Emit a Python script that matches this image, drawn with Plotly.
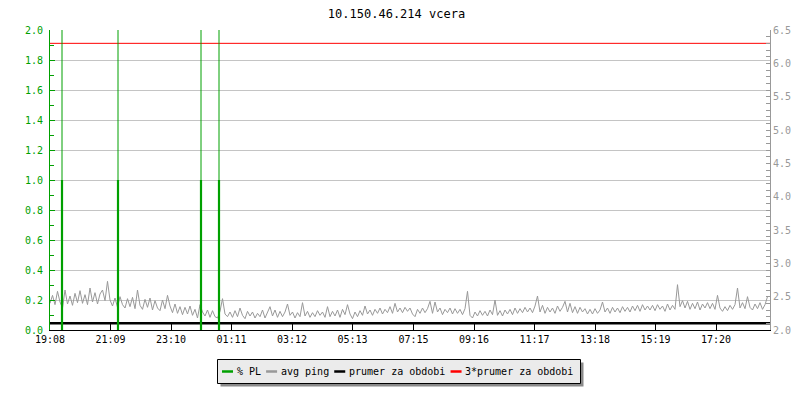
import datetime as dt
import plotly.graph_objects as go

# ---------------- data ----------------
title_text = "10.150.46.214 vcera"
start_time = "2024-05-01 19:08"
step_minutes = 5

tick_labels = ["19:08", "21:09", "23:10", "01:11", "03:12", "05:13",
               "07:15", "09:16", "11:17", "13:18", "15:19", "17:20"]

# avg ping [ms], one value per 5 minutes (288 values = 24 h)
avg_ping = [
    2.40, 2.52, 2.38, 2.58, 2.42, 2.33, 2.60, 2.39, 2.51, 2.37, 2.55, 2.41,
    2.59, 2.40, 2.53, 2.38, 2.63, 2.42, 2.56, 2.39, 2.54, 2.60, 2.44, 2.73,
    2.45, 2.36, 2.48, 2.34, 2.50, 2.38, 2.33, 2.47, 2.35, 2.49, 2.32, 2.60,
    2.37, 2.31, 2.46, 2.34, 2.48, 2.30, 2.44, 2.33, 2.29, 2.45, 2.32, 2.52,
    2.36, 2.26, 2.39, 2.25, 2.35, 2.23, 2.34, 2.24, 2.36, 2.22, 2.31, 2.18,
    2.38, 2.27, 2.21, 2.30, 2.19, 2.29, 2.20, 2.18, 2.28, 2.47, 2.24, 2.20,
    2.27, 2.19, 2.29, 2.20, 2.33, 2.22, 2.17, 2.28, 2.21, 2.27, 2.18, 2.25,
    2.20, 2.30, 2.18, 2.26, 2.35, 2.21, 2.30, 2.19, 2.28, 2.20, 2.27, 2.39,
    2.22, 2.27, 2.18, 2.26, 2.20, 2.41, 2.21, 2.28, 2.19, 2.26, 2.20, 2.29,
    2.22, 2.27, 2.19, 2.35, 2.20, 2.28, 2.21, 2.30, 2.19, 2.31, 2.23, 2.38,
    2.24, 2.17, 2.27, 2.20, 2.29, 2.22, 2.36, 2.24, 2.30, 2.22, 2.31, 2.25,
    2.33, 2.24, 2.31, 2.26, 2.35, 2.25, 2.40, 2.27, 2.33, 2.26, 2.34, 2.28,
    2.33, 2.24, 2.20, 2.31, 2.25, 2.33, 2.26, 2.32, 2.43, 2.25, 2.42, 2.27,
    2.33, 2.23, 2.31, 2.26, 2.33, 2.24, 2.32, 2.25, 2.31, 2.23, 2.32, 2.58,
    2.22, 2.18, 2.27, 2.21, 2.29, 2.22, 2.28, 2.21, 2.30, 2.23, 2.45, 2.22,
    2.29, 2.21, 2.30, 2.24, 2.31, 2.23, 2.33, 2.25, 2.32, 2.26, 2.34, 2.27,
    2.33, 2.26, 2.36, 2.51, 2.27, 2.37, 2.25, 2.34, 2.27, 2.33, 2.25, 2.36,
    2.28, 2.34, 2.43, 2.27, 2.40, 2.26, 2.35, 2.25, 2.34, 2.27, 2.32, 2.24,
    2.31, 2.24, 2.32, 2.25, 2.30, 2.42, 2.27, 2.33, 2.25, 2.34, 2.27, 2.33,
    2.26, 2.35, 2.28, 2.34, 2.27, 2.36, 2.29, 2.37, 2.28, 2.38, 2.30, 2.36,
    2.30, 2.37, 2.29, 2.38, 2.31, 2.36, 2.28, 2.39, 2.30, 2.37, 2.31, 2.68,
    2.35, 2.44, 2.33, 2.43, 2.31, 2.40, 2.32, 2.42, 2.30, 2.39, 2.33, 2.41,
    2.32, 2.40, 2.31, 2.52, 2.33, 2.28, 2.35, 2.29, 2.37, 2.31, 2.38, 2.63,
    2.33, 2.41, 2.32, 2.50, 2.34, 2.30, 2.39, 2.32, 2.41, 2.31, 2.38, 2.50,
]

# packet loss events [%]
pl_times = ["2024-05-01 19:32", "2024-05-01 21:24",
            "2024-05-02 00:10", "2024-05-02 00:46"]
pl_values = [1.0, 1.0, 1.0, 1.0]

prumer_ms = 2.1            # average for the period
prumer3_ms = 3 * prumer_ms

legend_names = ["% PL", "avg ping", "prumer za obdobi", "3*prumer za obdobi"]

# ---------------- styles ----------------
GREEN = "#00a000"
GRAY = "#999999"
GRID = "#c4c4c4"
FONT = "DejaVu Sans Mono"
legend_colors = [GREEN, GRAY, "#000000", "#ff0000"]

# page body has an 8px margin; design in page pixels and convert
OFF = 8
W, H = 800 - OFF, 400 - OFF
PX0, PX1, PY0, PY1 = 50, 770, 30, 330          # plot area in page pixels
ML, MT = PX0 - OFF, PY0 - OFF
MR, MB = W - (PX1 - OFF), H - (PY1 - OFF)
PW, PH = PX1 - PX0, PY1 - PY0

t0 = dt.datetime.strptime(start_time, "%Y-%m-%d %H:%M")
t_end = t0 + dt.timedelta(hours=24)
ping_x = [t0 + dt.timedelta(minutes=step_minutes * i) for i in range(len(avg_ping))]

# tick positions from the tick labels (day rollover)
tickvals = []
day = t0.date()
prev_h = -1
for lab in tick_labels:
    h, m = map(int, lab.split(":"))
    if h < prev_h:
        day = day + dt.timedelta(days=1)
    prev_h = h
    tickvals.append(dt.datetime.combine(day, dt.time(h, m)))

PL_MAX = 2.0

fig = go.Figure()

fig.add_trace(go.Scatter(x=ping_x, y=avg_ping, mode="lines",
                         line=dict(color=GRAY, width=1), yaxis="y",
                         showlegend=False, hoverinfo="skip"))
fig.add_trace(go.Scatter(x=[t0, t_end], y=[prumer_ms, prumer_ms], mode="lines",
                         line=dict(color="#000000", width=2.5), yaxis="y",
                         showlegend=False, hoverinfo="skip"))
fig.add_trace(go.Scatter(x=[t0, t_end], y=[prumer3_ms, prumer3_ms], mode="lines",
                         line=dict(color="#ff0000", width=1), yaxis="y",
                         showlegend=False, hoverinfo="skip"))

thin_x, thin_y, thick_x, thick_y = [], [], [], []
for t, v in zip(pl_times, pl_values):
    thin_x += [t, t, None]
    thin_y += [0, PL_MAX, None]
    thick_x += [t, t, None]
    thick_y += [0, v, None]
fig.add_trace(go.Scatter(x=thin_x, y=thin_y, mode="lines",
                         line=dict(color=GREEN, width=1), yaxis="y2",
                         showlegend=False, hoverinfo="skip"))
fig.add_trace(go.Scatter(x=thick_x, y=thick_y, mode="lines",
                         line=dict(color=GREEN, width=2.2), yaxis="y2",
                         showlegend=False, hoverinfo="skip"))


def px_x(p):
    return (p - PX0) / PW


def px_y(p):
    return (PY1 - p) / PH


shapes = []
annotations = []
# legend box with shadow (page pixels)
bx0, by0, bx1, by1 = 217.5, 359.5, 580.5, 383.5
shapes.append(dict(type="rect", xref="paper", yref="paper",
                   x0=px_x(bx0 + 3), x1=px_x(bx1 + 3), y0=px_y(by1 + 3), y1=px_y(by0 + 3),
                   fillcolor="#8a8a8a", line=dict(width=0), layer="above"))
shapes.append(dict(type="rect", xref="paper", yref="paper",
                   x0=px_x(bx0), x1=px_x(bx1), y0=px_y(by1), y1=px_y(by0),
                   fillcolor="#ebebeb", line=dict(color="#000000", width=1), layer="above"))
cx = 222.0
ly = 371.5
CH = 6.02
for name, col in zip(legend_names, legend_colors):
    shapes.append(dict(type="line", xref="paper", yref="paper",
                       x0=px_x(cx), x1=px_x(cx + 11), y0=px_y(ly), y1=px_y(ly),
                       line=dict(color=col, width=2.5), layer="above"))
    annotations.append(dict(text=name, xref="paper", yref="paper",
                            x=px_x(cx + 14.5), y=px_y(ly), xanchor="left", yanchor="middle",
                            showarrow=False, borderpad=0, borderwidth=0,
                            font=dict(family=FONT, size=10, color="#000000")))
    cx += 14.5 + len(name) * CH + 5.5

fig.update_layout(
    width=W, height=H,
    margin=dict(l=ML, r=MR, t=MT, b=MB, autoexpand=False),
    paper_bgcolor="#ffffff", plot_bgcolor="#ffffff",
    showlegend=False,
    title=dict(text=title_text, x=(396.5 - OFF) / W, xref="container", xanchor="center",
               y=1 - (13.5 - OFF) / H, yref="container", yanchor="middle",
               font=dict(family=FONT, size=12, color="#000000")),
    xaxis=dict(type="date", range=[t0, t_end], tickvals=tickvals, ticktext=tick_labels,
               ticks="inside", ticklen=6, tickcolor="#000000", tickwidth=1,
               showline=True, linecolor="#000000", linewidth=1,
               showgrid=False, zeroline=False,
               tickfont=dict(family=FONT, size=10, color="#000000")),
    yaxis=dict(side="right", range=[2.0, 6.5], tick0=2.0, dtick=0.5, tickformat=".1f",
               ticks="inside", ticklen=4, tickcolor=GRAY,
               minor=dict(dtick=0.1, tick0=2.0, ticks="inside", ticklen=4, tickcolor=GRAY),
               showline=True, linecolor=GRAY, linewidth=1,
               showgrid=False, zeroline=False,
               tickfont=dict(family=FONT, size=10, color=GRAY)),
    yaxis2=dict(side="left", overlaying="y", range=[0, PL_MAX], tick0=0, dtick=0.2,
                tickformat=".1f", ticklabelstandoff=4,
                ticks="inside", ticklen=5, tickcolor=GREEN,
                minor=dict(dtick=0.1, tick0=0, ticks="inside", ticklen=4, tickcolor=GREEN),
                showline=True, linecolor=GREEN, linewidth=1,
                showgrid=True, gridcolor=GRID, gridwidth=1, zeroline=False,
                tickfont=dict(family=FONT, size=10, color=GREEN)),
    shapes=shapes,
    annotations=annotations,
)

fig.write_html("out.html")
